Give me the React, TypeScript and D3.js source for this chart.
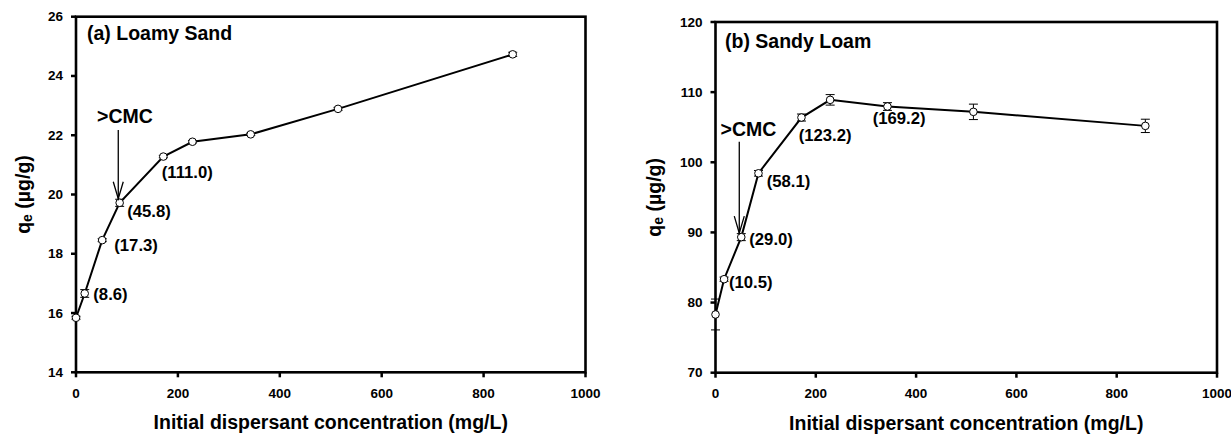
import React from "react";
import * as d3 from "d3";

// ---- data ----
const xConc = [0, 17.1, 51.4, 85.7, 171.4, 228.6, 342.9, 514.3, 857.1];
const loamySandQ = [15.84, 16.66, 18.46, 19.72, 21.28, 21.78, 22.03, 22.89, 24.73];
const loamySandErr = [0.05, 0.13, 0.05, 0.12, 0.04, 0.04, 0.04, 0.05, 0.07];
const sandyLoamQ = [78.3, 83.33, 89.33, 98.43, 106.38, 108.9, 107.95, 107.19, 105.19];
const sandyLoamErr = [2.2, 0.3, 0.5, 0.4, 0.5, 0.75, 0.55, 1.1, 0.95];
const xTicks = [0, 200, 400, 600, 800, 1000];
const yTicksA = [14, 16, 18, 20, 22, 24, 26];
const yTicksB = [70, 80, 90, 100, 110, 120];
// point labels: index of point, text
const labelsA = [
  { i: 1, text: "(8.6)" },
  { i: 2, text: "(17.3)" },
  { i: 3, text: "(45.8)" },
  { i: 4, text: "(111.0)" },
];
const labelsB = [
  { i: 1, text: "(10.5)" },
  { i: 2, text: "(29.0)" },
  { i: 3, text: "(58.1)" },
  { i: 4, text: "(123.2)" },
  { i: 6, text: "(169.2)" },
];

const FONT = "Liberation Sans, Arial, sans-serif";

type Lab = { i: number; text: string; dx: number; dy: number };

function Panel(props: {
  x0: number; x1: number; y0: number; y1: number;
  yDomain: [number, number]; yTicks: number[];
  ys: number[]; errs: number[];
  title: string; titlePos: [number, number];
  labels: Lab[];
  cmcIndex: number; cmcDx: number; cmcText: [number, number]; arrowTop: number;
  yTitleX: number; xTitleY: number;
}) {
  const { x0, x1, y0, y1 } = props;
  const xs = d3.scaleLinear().domain([0, 1000]).range([x0, x1]);
  const ysc = d3.scaleLinear().domain(props.yDomain).range([y1, y0]);
  const line = d3.line<number>().x((_, i) => xs(xConc[i])).y((d) => ysc(d));
  const cmcX = xs(xConc[props.cmcIndex]) + props.cmcDx;
  const cmcY = ysc(props.ys[props.cmcIndex]) - 4;
  return (
    <g>
      {xTicks.map((t) => (
        <g key={"x" + t}>
          <line x1={xs(t)} x2={xs(t)} y1={y1} y2={y1 + 5} stroke="#000" strokeWidth={2.5} />
          <text x={xs(t)} y={y1 + 21} textAnchor="middle" dominantBaseline="central" fontFamily={FONT} fontWeight="bold" fontSize={13.5}>{t}</text>
        </g>
      ))}
      {props.yTicks.map((t) => (
        <g key={"y" + t}>
          <line x1={x0 - 5} x2={x0} y1={ysc(t)} y2={ysc(t)} stroke="#000" strokeWidth={2.5} />
          <text x={x0 - 13} y={ysc(t)} textAnchor="end" dominantBaseline="central" fontFamily={FONT} fontWeight="bold" fontSize={13.5}>{t}</text>
        </g>
      ))}
      <rect x={x0} y={y0} width={x1 - x0} height={y1 - y0} fill="none" stroke="#000" strokeWidth={2.6} />
      <path d={line(props.ys) || ""} fill="none" stroke="#000" strokeWidth={2} />
      {props.ys.map((v, i) => {
        const cx = xs(xConc[i]);
        const e = props.errs[i];
        const ya = ysc(v + e), yb = ysc(v - e);
        return (
          <g key={"e" + i}>
            <line x1={cx} x2={cx} y1={ya} y2={yb} stroke="#000" strokeWidth={1} />
            <line x1={cx - 4.5} x2={cx + 4.5} y1={ya} y2={ya} stroke="#000" strokeWidth={1} />
            <line x1={cx - 4.5} x2={cx + 4.5} y1={yb} y2={yb} stroke="#000" strokeWidth={1} />
          </g>
        );
      })}
      {props.ys.map((v, i) => (
        <circle key={"c" + i} cx={xs(xConc[i])} cy={ysc(v)} r={3.8} fill="#fff" stroke="#000" strokeWidth={1} />
      ))}
      <text x={props.titlePos[0]} y={props.titlePos[1]} fontFamily={FONT} fontWeight="bold" fontSize={19.5}>{props.title}</text>
      {props.labels.map((l) => (
        <text key={l.text} x={xs(xConc[l.i]) + l.dx} y={ysc(props.ys[l.i]) + l.dy} fontFamily={FONT} fontWeight="bold" fontSize={16.7}>{l.text}</text>
      ))}
      <text x={props.cmcText[0]} y={props.cmcText[1]} fontFamily={FONT} fontWeight="bold" fontSize={19.5}>&gt;CMC</text>
      <line x1={cmcX} x2={cmcX} y1={props.arrowTop} y2={cmcY} stroke="#000" strokeWidth={1.3} />
      <path d={`M${cmcX - 5},${cmcY - 17} L${cmcX},${cmcY} L${cmcX + 5},${cmcY - 17}`} fill="none" stroke="#000" strokeWidth={1.3} />
      <text transform={`translate(${props.yTitleX},${(y0 + y1) / 2}) rotate(-90)`} textAnchor="middle" dominantBaseline="central" fontFamily={FONT} fontWeight="bold" fontSize={19.5}>
        q<tspan fontSize={14} dy={4}>e</tspan><tspan dy={-4}> (µg/g)</tspan>
      </text>
      <text x={(x0 + x1) / 2} y={props.xTitleY} textAnchor="middle" fontFamily={FONT} fontWeight="bold" fontSize={19.5}>Initial dispersant concentration (mg/L)</text>
    </g>
  );
}

export default function App() {
  const offA = [{ dx: 8.6, dy: 6.5 }, { dx: 12.1, dy: 10.9 }, { dx: 7.6, dy: 14.2 }, { dx: -1.6, dy: 21.7 }];
  const offB = [{ dx: 4.9, dy: 8.4 }, { dx: 8, dy: 7.9 }, { dx: 8.2, dy: 13.7 }, { dx: -2.8, dy: 23.4 }, { dx: -14.8, dy: 17.2 }];
  const la: Lab[] = labelsA.map((l, k) => ({ ...l, ...offA[k] }));
  const lb: Lab[] = labelsB.map((l, k) => ({ ...l, ...offB[k] }));
  return (
    <div style={{ position: "absolute", left: 0, top: 0 }}>
      <svg width={1231} height={434} style={{ display: "block", background: "#fff" }}>
        <Panel x0={76} x1={585.5} y0={16.7} y1={372.3} yDomain={[14, 26]} yTicks={yTicksA}
          ys={loamySandQ} errs={loamySandErr} title="(a) Loamy Sand" titlePos={[87, 39.5]}
          labels={la} cmcIndex={3} cmcDx={-1.4} cmcText={[97, 123]} arrowTop={130}
          yTitleX={22.5} xTitleY={429} />
        <Panel x0={715.5} x1={1217} y0={22} y1={372.7} yDomain={[70, 120]} yTicks={yTicksB}
          ys={sandyLoamQ} errs={sandyLoamErr} title="(b) Sandy Loam" titlePos={[725, 47.5]}
          labels={lb} cmcIndex={2} cmcDx={-2} cmcText={[720.5, 136]} arrowTop={141.7}
          yTitleX={654} xTitleY={429.5} />
      </svg>
    </div>
  );
}
